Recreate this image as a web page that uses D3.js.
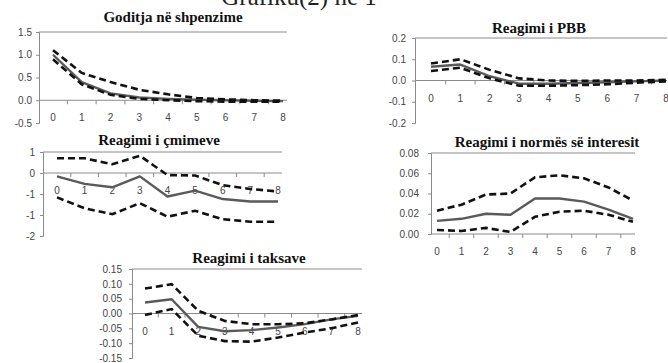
<!DOCTYPE html>
<html>
<head>
<meta charset="utf-8">
<script src="https://cdn.jsdelivr.net/npm/d3@7"></script>
<style>
  html, body { margin: 0; padding: 0; background: #fff; }
  svg { display: block; }
</style>
</head>
<body>
<svg id="chart" width="668" height="363"></svg>
<script>
// Impulse-response horizons
const steps = [0, 1, 2, 3, 4, 5, 6, 7, 8];

// Goditja në shpenzime
const shpenzimeMean  = [1.00, 0.40, 0.15, 0.06, 0.03, 0.01, 0.00, -0.01, -0.02];
const shpenzimeUpper = [1.10, 0.60, 0.40, 0.23, 0.13, 0.05, 0.02, 0.00, -0.01];
const shpenzimeLower = [0.90, 0.35, 0.12, 0.03, 0.00, -0.02, -0.03, -0.03, -0.03];
const shpenzimeTicks = [1.5, 1.0, 0.5, 0.0, -0.5];

// Reagimi i PBB
const pbbMean  = [0.065, 0.075, 0.020, -0.015, -0.015, -0.012, -0.008, -0.004, 0.000];
const pbbUpper = [0.080, 0.100, 0.050, 0.010, 0.000, -0.002, 0.000, 0.000, 0.003];
const pbbLower = [0.045, 0.060, 0.010, -0.025, -0.025, -0.022, -0.018, -0.010, -0.004];
const pbbTicks = [0.2, 0.1, 0.0, -0.1, -0.2];

// Reagimi i çmimeve
const cmimeveMean  = [-0.08, -0.26, -0.34, -0.08, -0.56, -0.42, -0.62, -0.68, -0.68];
const cmimeveUpper = [0.35, 0.35, 0.21, 0.41, -0.05, -0.06, -0.29, -0.38, -0.44];
const cmimeveLower = [-0.58, -0.84, -0.98, -0.72, -1.04, -0.90, -1.10, -1.16, -1.16];
const cmimeveTicks = [0.5, 0.0, -0.5, -1.0, -1.5];

// Reagimi i normës së interesit
const interesMean  = [0.013, 0.015, 0.020, 0.019, 0.035, 0.035, 0.032, 0.024, 0.015];
const interesUpper = [0.023, 0.029, 0.039, 0.040, 0.056, 0.058, 0.055, 0.046, 0.033];
const interesLower = [0.004, 0.003, 0.006, 0.002, 0.017, 0.022, 0.023, 0.019, 0.012];
const interesTicks = [0.08, 0.06, 0.04, 0.02, 0.00];

// Reagimi i taksave
const taksaveMean  = [0.037, 0.048, -0.045, -0.060, -0.056, -0.047, -0.036, -0.020, -0.008];
const taksaveUpper = [0.084, 0.099, 0.009, -0.025, -0.036, -0.036, -0.033, -0.020, -0.005];
const taksaveLower = [-0.005, 0.015, -0.075, -0.093, -0.095, -0.081, -0.064, -0.050, -0.030];
const taksaveTicks = [0.15, 0.10, 0.05, 0.00, -0.05, -0.10, -0.15];

const svg = d3.select("#chart");

// Page heading, clipped by the top edge of the sheet
svg.append("text")
  .attr("x", 299).attr("y", 5)
  .attr("text-anchor", "middle")
  .attr("font-family", "Liberation Serif, Times New Roman, serif")
  .attr("font-size", 25)
  .attr("fill", "#222")
  .text("Grafiku(2) në 1");

const AXIS = "#8a8a8a";
const LABEL = "#454545";

function drawPanel(p) {
  const g = svg.append("g");
  const x = d3.scalePoint().domain(steps).range([p.x0, p.x1]);
  const y = d3.scaleLinear().domain(p.domain).range([p.yBottom, p.yTop]);

  // title
  g.append("text")
    .attr("x", p.titleX).attr("y", p.titleY + 5)
    .attr("text-anchor", "middle")
    .attr("font-family", "Liberation Serif, Times New Roman, serif")
    .attr("font-weight", "bold")
    .attr("font-size", 15)
    .attr("fill", "#111")
    .text(p.title);

  // y axis
  const yAxis = d3.axisLeft(y)
    .tickValues(p.ticks)
    .tickSize(3)
    .tickFormat(v => v.toFixed(p.decimals));
  const ya = g.append("g")
    .attr("transform", `translate(${p.axisX},0)`)
    .call(yAxis);
  ya.select(".domain").attr("stroke", AXIS).attr("stroke-width", 1);
  ya.selectAll(".tick line").attr("stroke", AXIS);
  ya.selectAll(".tick text")
    .attr("font-family", "Liberation Sans, Arial, sans-serif")
    .attr("font-size", 10)
    .attr("fill", LABEL)
    .attr("x", -p.labelGap);

  // top border line
  g.append("line")
    .attr("x1", p.axisX).attr("x2", p.right)
    .attr("y1", y(p.domain[1])).attr("y2", y(p.domain[1]))
    .attr("stroke", AXIS).attr("stroke-width", 1);

  // horizontal category axis at zero
  const y0 = y(0);
  g.append("line")
    .attr("x1", p.axisX).attr("x2", p.right)
    .attr("y1", y0).attr("y2", y0)
    .attr("stroke", AXIS).attr("stroke-width", 1);

  // tick marks between categories
  const step = x.step();
  const tickXs = steps.slice(0, -1).map(s => x(s) + step / 2);
  g.selectAll(".xtick").data(tickXs).join("line")
    .attr("x1", d => d).attr("x2", d => d)
    .attr("y1", y0).attr("y2", y0 + 4)
    .attr("stroke", AXIS);

  // category labels
  g.selectAll(".xlab").data(steps).join("text")
    .attr("x", d => x(d))
    .attr("y", y0 + 21)
    .attr("text-anchor", "middle")
    .attr("font-family", "Liberation Sans, Arial, sans-serif")
    .attr("font-size", 10)
    .attr("fill", LABEL)
    .text(d => d);

  const line = d3.line().x((d, i) => x(steps[i])).y(d => y(d));

  g.append("path").datum(p.mean)
    .attr("d", line).attr("fill", "none")
    .attr("stroke", "#5a5a5a").attr("stroke-width", 2.4)
    .attr("stroke-linejoin", "round");

  [p.upper, p.lower].forEach(series => {
    g.append("path").datum(series)
      .attr("d", line).attr("fill", "none")
      .attr("stroke", "#111").attr("stroke-width", 2.6)
      .attr("stroke-dasharray", "7,4");
  });
}

drawPanel({
  title: "Goditja në shpenzime", titleX: 173, titleY: 17,
  mean: shpenzimeMean, upper: shpenzimeUpper, lower: shpenzimeLower,
  ticks: shpenzimeTicks, decimals: 1, domain: [-0.5, 1.5], labelGap: 7,
  axisX: 39, right: 287, x0: 53, x1: 283, yTop: 32, yBottom: 123
});

drawPanel({
  title: "Reagimi i PBB", titleX: 539, titleY: 28,
  mean: pbbMean, upper: pbbUpper, lower: pbbLower,
  ticks: pbbTicks, decimals: 1, domain: [-0.2, 0.2], labelGap: 9,
  axisX: 415, right: 667, x0: 431, x1: 666, yTop: 38, yBottom: 123
});

drawPanel({
  title: "Reagimi i çmimeve", titleX: 159, titleY: 140,
  mean: cmimeveMean, upper: cmimeveUpper, lower: cmimeveLower,
  ticks: cmimeveTicks, decimals: 0, domain: [-1.5, 0.5], labelGap: 8,
  axisX: 43, right: 282, x0: 57, x1: 278, yTop: 152, yBottom: 236
});

drawPanel({
  title: "Reagimi i normës së interesit", titleX: 547, titleY: 142,
  mean: interesMean, upper: interesUpper, lower: interesLower,
  ticks: interesTicks, decimals: 2, domain: [0, 0.08], labelGap: 12,
  axisX: 431, right: 635, x0: 437, x1: 633, yTop: 153, yBottom: 234
});

drawPanel({
  title: "Reagimi i taksave", titleX: 249, titleY: 258,
  mean: taksaveMean, upper: taksaveUpper, lower: taksaveLower,
  ticks: taksaveTicks, decimals: 2, domain: [-0.15, 0.15], labelGap: 10,
  axisX: 132, right: 362, x0: 145, x1: 358, yTop: 269, yBottom: 358
});
</script>
</body>
</html>
